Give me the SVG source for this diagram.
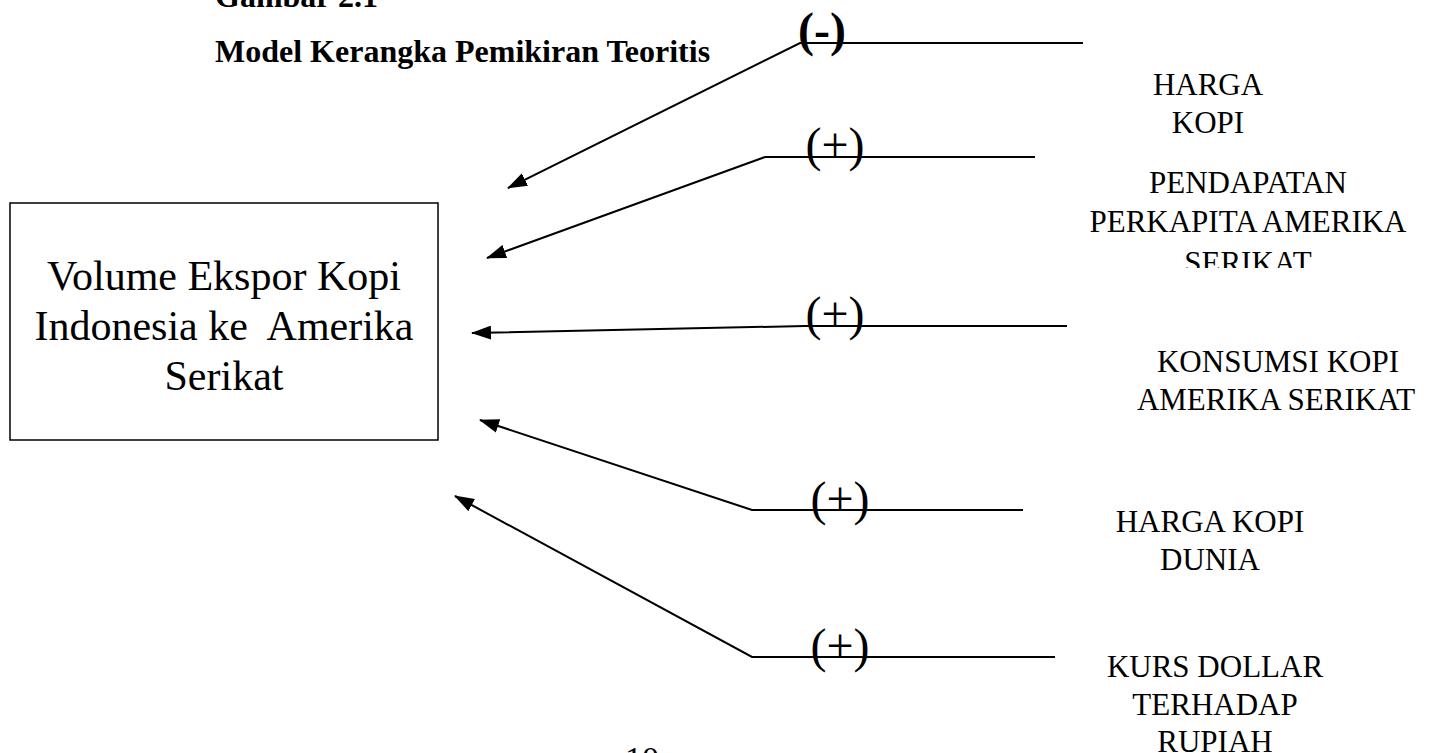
<svg xmlns="http://www.w3.org/2000/svg" width="1440" height="753" viewBox="0 0 1440 753">
<style>
.t{font-family:"Liberation Serif","Times New Roman",serif;fill:#000}
.title{font-size:32px;font-weight:bold}
.lbl{font-size:31px;text-anchor:middle}
.box{font-size:42px;text-anchor:middle}
.sign{font-size:48px;text-anchor:middle}
.c{fill:none;stroke:#000;stroke-width:2}
</style>
<defs>
<marker id="ahl" viewBox="0 0 20 14" refX="19" refY="7" markerWidth="20" markerHeight="14" markerUnits="userSpaceOnUse" orient="auto">
<path d="M0,0 L20,7 L0,14 z" fill="#000"/>
</marker>
<clipPath id="clipSer"><rect x="1000" y="240" width="440" height="28"/></clipPath>
</defs>
<rect width="1440" height="753" fill="#fff"/>
<g id="title">
<text class="t title" x="215" y="7">Gambar 2.1</text>
<text class="t title" x="215" y="62">Model Kerangka Pemikiran Teoritis</text>
</g>
<g id="connectors">
<polyline class="c" points="1083,43 800,43 508,188" marker-end="url(#ahl)"/>
<polyline class="c" points="1035,157 765,157 487,258" marker-end="url(#ahl)"/>
<polyline class="c" points="1067,326 805,326 472,333" marker-end="url(#ahl)"/>
<polyline class="c" points="1023,510 752,510 480,420" marker-end="url(#ahl)"/>
<polyline class="c" points="1055,657 752,657 455,496" marker-end="url(#ahl)"/>
</g>
<g id="signs">
<text class="t sign" x="822" y="46" font-weight="bold">(-)</text>
<text class="t sign" x="835" y="161">(+)</text>
<text class="t sign" x="835" y="330">(+)</text>
<text class="t sign" x="840" y="515">(+)</text>
<text class="t sign" x="840" y="662">(+)</text>
</g>
<g id="node-volume">
<rect x="10" y="203" width="428" height="237" fill="#fff" stroke="#000" stroke-width="1.5"/>
<text class="t box" x="224" y="290">Volume Ekspor Kopi</text>
<text class="t box" x="224" y="340" xml:space="preserve">Indonesia ke  Amerika</text>
<text class="t box" x="224" y="390">Serikat</text>
</g>
<g id="node-harga-kopi">
<text class="t lbl" x="1208" y="95">HARGA</text>
<text class="t lbl" x="1208" y="133">KOPI</text>
</g>
<g id="node-pendapatan">
<text class="t lbl" x="1248" y="193">PENDAPATAN</text>
<text class="t lbl" x="1248" y="232">PERKAPITA AMERIKA</text>
<text class="t lbl" x="1248" y="273" clip-path="url(#clipSer)">SERIKAT</text>
</g>
<g id="node-konsumsi">
<text class="t lbl" x="1278" y="372">KONSUMSI KOPI</text>
<text class="t lbl" x="1276" y="410">AMERIKA SERIKAT</text>
</g>
<g id="node-harga-dunia">
<text class="t lbl" x="1210" y="532">HARGA KOPI</text>
<text class="t lbl" x="1210" y="570">DUNIA</text>
</g>
<g id="node-kurs">
<text class="t lbl" x="1215" y="677">KURS DOLLAR</text>
<text class="t lbl" x="1215" y="715">TERHADAP</text>
<text class="t lbl" x="1215" y="752">RUPIAH</text>
</g>
<text class="t" x="642" y="770" font-size="34" text-anchor="middle">10</text>
</svg>
